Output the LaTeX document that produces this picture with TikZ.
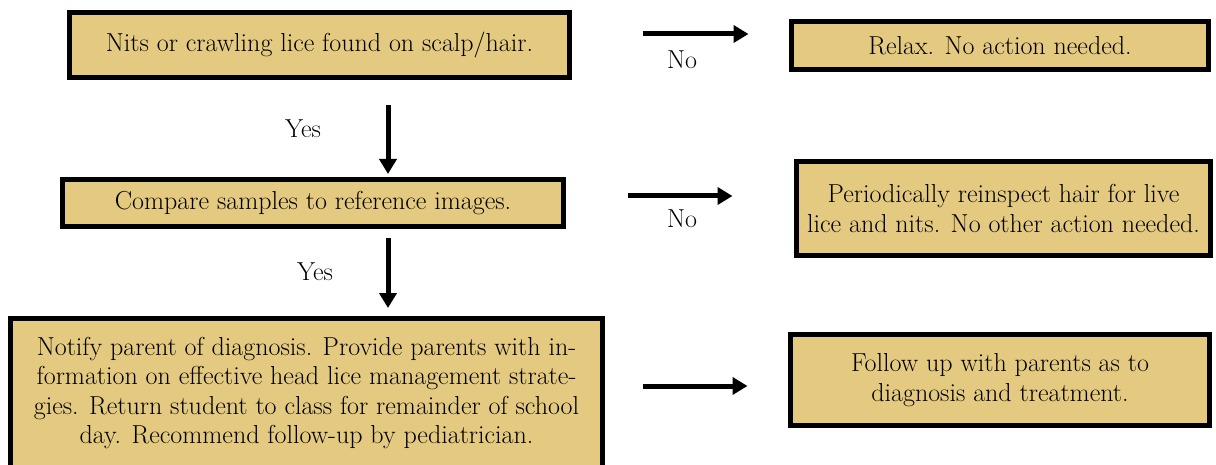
\documentclass[tikz,border=0pt]{standalone}
\usepackage{fontspec}
\usetikzlibrary{arrows.meta}
\definecolor{licetan}{RGB}{228,202,128}
\begin{document}
\begin{tikzpicture}[x=1pt,y=-1pt,
  box/.style={draw, line width=5pt, fill=licetan, align=center, inner sep=0pt,
    font=\fontsize{26}{29.5}\selectfont},
  lbl/.style={font=\fontsize{26}{29.5}\selectfont},
  flow/.style={line width=5pt, ->, >={Triangle[length=15pt,width=17pt]}}]
\useasboundingbox (0,0) rectangle (1216,465);

\node[box, minimum width=500pt, minimum height=65pt] (nits) at (319.5,45) {Nits or crawling lice found on scalp/hair.};
\node[box, minimum width=417pt, minimum height=48pt] (relax) at (1000,45.5) {Relax. No action needed.};
\node[box, minimum width=501pt, minimum height=47pt] (cmp) at (313,203) {Compare samples to reference images.};
\node[box, minimum width=414pt, minimum height=94pt] (reins) at (1003.5,208.5) {Periodically reinspect hair for live\\lice and nits. No other action needed.};
\node[box, minimum width=592pt, minimum height=149pt] (notify) at (306.5,393) {Notify parent of diagnosis. Provide parents with in-\\formation on effective head lice management strate-\\gies. Return student to class for remainder of school\\day. Recommend follow-up by pediatrician.};
\node[box, minimum width=419pt, minimum height=91pt] (follow) at (1000,380) {Follow up with parents as to\\diagnosis and treatment.};

\node[lbl] (yes1) at (303,129) {Yes};
\node[lbl] (yes2) at (315,272) {Yes};
\node[lbl] (no1) at (682,60) {No};
\node[lbl] (no2) at (682,219) {No};

\path[draw,flow,shorten <=25pt,shorten >=3pt] ([xshift=68.5pt]nits.south) -- ([xshift=68.5pt]nits.south |- cmp.north);
\path[draw,flow,shorten <=9pt,shorten >=8pt] ([xshift=75pt]cmp.south) -- ([xshift=75pt]cmp.south |- notify.north);
\path[draw,flow,shorten <=70.5pt,shorten >=40.5pt] ([yshift=11pt]nits.east) -- ([yshift=11pt]nits.east -| relax.west);
\path[draw,flow,shorten <=61.5pt,shorten >=61.5pt] ([yshift=7pt]cmp.east) -- ([yshift=7pt]cmp.east -| reins.west);
\path[draw,flow,shorten <=37.5pt,shorten >=40.5pt] ([yshift=7pt]notify.east) -- ([yshift=7pt]notify.east -| follow.west);
\end{tikzpicture}
\end{document}
